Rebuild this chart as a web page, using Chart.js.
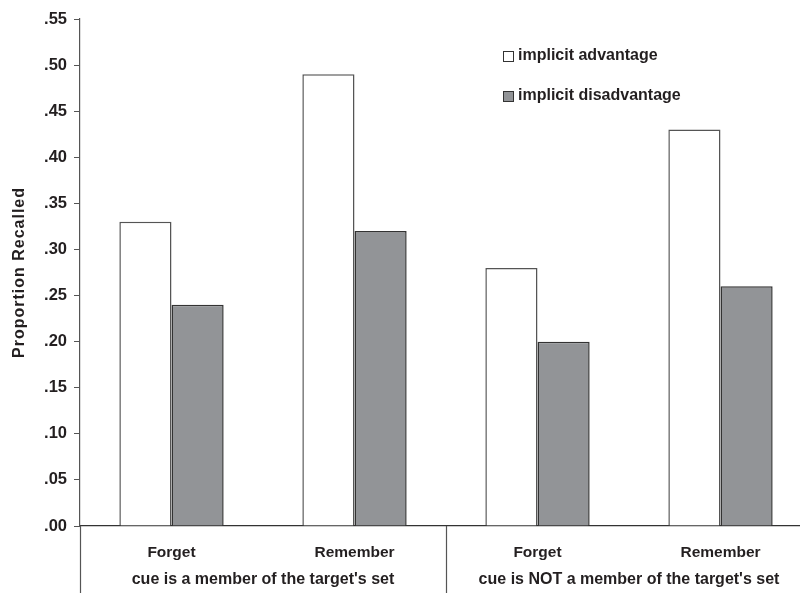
<!DOCTYPE html>
<html>
<head>
<meta charset="utf-8">
<script src="https://cdn.jsdelivr.net/npm/chart.js@4/dist/chart.umd.min.js"></script>
<style>
  html, body { margin: 0; padding: 0; background: #fff; overflow: hidden; width: 800px; height: 593px; }
  #wrap { width: 814px; height: 593px; }
</style>
</head>
<body>
<div id="wrap"><canvas id="c" width="814" height="593"></canvas></div>
<script>
const categories = ["Forget", "Remember", "Forget", "Remember"];
const groups = ["cue is a member of the target's set", "cue is NOT a member of the target's set"];
const advantage = [0.33, 0.49, 0.28, 0.43];
const disadvantage = [0.24, 0.32, 0.20, 0.26];
const seriesNames = ["implicit advantage", "implicit disadvantage"];
const yTicks = [0, 0.05, 0.10, 0.15, 0.20, 0.25, 0.30, 0.35, 0.40, 0.45, 0.50, 0.55];
const yTitle = "Proportion Recalled";

const FONT = "Liberation Sans, Arial, sans-serif";
const TXT = "#231f20";

const extras = {
  id: "extras",
  afterDraw(chart) {
    const ctx = chart.ctx;
    const x = chart.scales.x;
    const ca = chart.chartArea;
    const H = chart.height;
    ctx.save();
    ctx.strokeStyle = "#555";
    ctx.lineWidth = 1.2;
    const sepX = (x.getPixelForValue(1) + x.getPixelForValue(2)) / 2;
    [ca.left, sepX].forEach(px => {
      ctx.beginPath();
      ctx.moveTo(Math.round(px) + 0.5, ca.bottom);
      ctx.lineTo(Math.round(px) + 0.5, H);
      ctx.stroke();
    });
    // group labels
    ctx.fillStyle = TXT;
    ctx.font = "bold 16px " + FONT;
    ctx.textAlign = "center";
    ctx.textBaseline = "middle";
    ctx.fillText(groups[0], (ca.left + sepX) / 2, 580);
    ctx.fillText(groups[1], (sepX + ca.right) / 2, 580);
    // legend
    const items = [
      { label: seriesNames[0], fill: "#ffffff", y: 56 },
      { label: seriesNames[1], fill: "#929497", y: 95.5 }
    ];
    ctx.textAlign = "left";
    items.forEach(it => {
      ctx.fillStyle = it.fill;
      ctx.fillRect(503.5, Math.round(it.y) - 4.5, 10, 10);
      ctx.strokeStyle = "#333";
      ctx.lineWidth = 1;
      ctx.strokeRect(503.5, Math.round(it.y) - 4.5, 10, 10);
      ctx.fillStyle = TXT;
      ctx.fillText(it.label, 518, it.y);
    });
    // y title
    ctx.letterSpacing = "1px";
    ctx.font = "bold 16px " + FONT;
    ctx.translate(19.5, (ca.top + ca.bottom) / 2);
    ctx.rotate(-Math.PI / 2);
    ctx.textAlign = "center";
    ctx.textBaseline = "middle";
    ctx.fillText(yTitle, 0, 0);
    ctx.restore();
  }
};

new Chart(document.getElementById("c"), {
  type: "bar",
  data: {
    labels: categories,
    datasets: [
      { label: seriesNames[0], data: advantage, backgroundColor: "#ffffff", borderColor: "#555", borderWidth: 1.5,
        categoryPercentage: 0.57, barPercentage: 1.0 },
      { label: seriesNames[1], data: disadvantage, backgroundColor: "#929497", borderColor: "#333", borderWidth: 1.5,
        categoryPercentage: 0.57, barPercentage: 1.0 }
    ]
  },
  options: {
    responsive: false,
    animation: false,
    layout: { padding: { top: 19, left: 0, right: 2, bottom: 0 } },
    plugins: { legend: { display: false }, tooltip: { enabled: false } },
    scales: {
      x: {
        type: "category",
        grid: { display: false, drawTicks: false },
        border: { display: true, color: "#333", width: 1.2 },
        ticks: { color: TXT, font: { family: FONT, weight: "bold", size: 15.5 }, padding: 17 },
        afterFit(scale) { scale.height = 67; }
      },
      y: {
        min: 0, max: 0.55,
        afterBuildTicks(scale) { scale.ticks = yTicks.map(v => ({ value: v })); },
        grid: { drawOnChartArea: false, drawTicks: true, tickLength: 6, color: "#555", lineWidth: 1 },
        border: { display: true, color: "#555", width: 1.2 },
        ticks: {
          color: TXT, padding: 7,
          font: { family: FONT, weight: "bold", size: 16.5 },
          callback: (v) => Number(v).toFixed(2).replace(/^0/, "")
        },
        afterFit(scale) { scale.width = 80; }
      }
    }
  },
  plugins: [extras]
});
</script>
</body>
</html>
